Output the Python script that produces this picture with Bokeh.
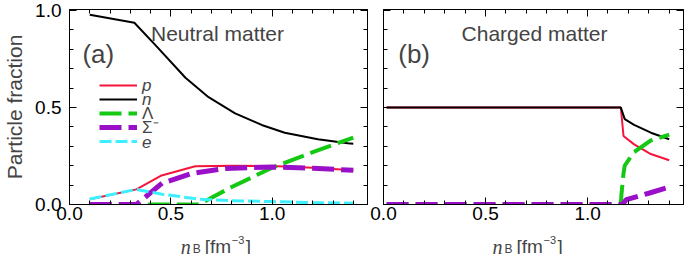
from bokeh.plotting import figure
from bokeh.layouts import row, column
from bokeh.models import (LinearAxis, FixedTicker, Range1d, Label, Legend,
                          LegendItem, PrintfTickFormatter)
from bokeh.embed import file_html
from bokeh.resources import INLINE

# ---------------- data ----------------
# (a) neutral matter
a_p_x = [0.10, 0.33, 0.45, 0.62, 0.80, 1.00, 1.20, 1.40]
a_p_y = [0.027, 0.078, 0.148, 0.197, 0.200, 0.198, 0.190, 0.177]
a_n_x = [0.10, 0.32, 0.425, 0.572, 0.686, 0.817, 0.948, 1.062, 1.225, 1.373, 1.40]
a_n_y = [0.978, 0.937, 0.82, 0.653, 0.553, 0.47, 0.41, 0.37, 0.336, 0.316, 0.313]
a_L_x = [0.10, 0.637, 0.80, 1.00, 1.20, 1.40]
a_L_y = [0.0, 0.0, 0.09, 0.19, 0.27, 0.345]
a_S_x = [0.10, 0.33, 0.457, 0.604, 0.768, 1.00, 1.20, 1.40]
a_S_y = [0.0, 0.0, 0.11, 0.16, 0.186, 0.193, 0.187, 0.176]
a_e_x = [0.10, 0.33, 0.457, 0.637, 0.80, 1.00, 1.20, 1.40]
a_e_y = [0.028, 0.078, 0.053, 0.028, 0.020, 0.015, 0.010, 0.007]

# (b) charged matter
b_p_x = [0.015, 1.163, 1.176, 1.228, 1.31, 1.40]
b_p_y = [0.5, 0.5, 0.353, 0.31, 0.26, 0.228]
b_n_x = [0.015, 1.163, 1.182, 1.228, 1.31, 1.40]
b_n_y = [0.5, 0.5, 0.44, 0.41, 0.37, 0.336]
b_L_x = [0.015, 1.163, 1.166, 1.176, 1.182, 1.228, 1.31, 1.40]
b_L_y = [0.0, 0.0, 0.053, 0.16, 0.20, 0.27, 0.33, 0.36]
b_S_x = [0.015, 1.17, 1.19, 1.30, 1.40]
b_S_y = [0.0, 0.0, 0.025, 0.058, 0.09]

x_major = [0.0, 0.5, 1.0]
x_minor = [0.1, 0.2, 0.3, 0.4, 0.6, 0.7, 0.8, 0.9, 1.1, 1.2, 1.3, 1.4]
y_major = [0.0, 0.5, 1.0]
y_minor = [0.1, 0.2, 0.3, 0.4, 0.6, 0.7, 0.8, 0.9]

legend_labels = ["p", "n", "Λ", "Σ⁻", "e"]
legend_styles = ["italic", "italic", "normal", "normal", "italic"]
panel_titles = ["Neutral matter", "Charged matter"]
panel_tags = ["(a)", "(b)"]
xtitle_anchor = [0.555, 0.534]

# ---------------- styles ----------------
SANS = "Liberation Sans"
C_P, C_N, C_L, C_S, C_E = "#f5143c", "#000000", "#14c814", "#9a10c8", "#3cf0ff"
TOPB = 9
FH = 195      # frame height
H = TOPB + FH + 23   # main panel height
FW = 300      # frame width
HT = 254 - H  # x-title strip height
PX_X = FW / 1.47
PX_Y = FH / 1.005


def style_axis(ax, major, minor, labels):
    ax.ticker = FixedTicker(ticks=major, minor_ticks=minor)
    ax.formatter = PrintfTickFormatter(format="%.1f")
    ax.major_tick_in = 7
    ax.major_tick_out = 0
    ax.minor_tick_in = 4
    ax.minor_tick_out = 0
    ax.axis_line_color = "black"
    ax.major_tick_line_color = "black"
    ax.minor_tick_line_color = "black"
    if labels:
        ax.major_label_text_font = SANS
        ax.major_label_text_font_size = "19px"
        ax.major_label_text_color = "black"
        ax.major_label_standoff = 2
    else:
        ax.major_label_overrides = {t: "" for t in major}
        ax.major_label_text_font_size = "1px"
        ax.major_label_text_color = None
        ax.major_label_standoff = 0


def make_panel(width, bl, br, ylabels, idx):
    p = figure(width=width, height=H, x_range=Range1d(0, 1.47),
               y_range=Range1d(0, 1.005), output_backend="svg",
               toolbar_location=None, min_border_left=bl,
               min_border_right=br, min_border_top=TOPB,
               min_border_bottom=H - TOPB - FH)
    p.xgrid.visible = False
    p.ygrid.visible = False
    p.outline_line_color = "black"
    style_axis(p.below[0], x_major, x_minor, True)
    style_axis(p.left[0], y_major, y_minor, ylabels)
    if ylabels:
        p.left[0].major_label_standoff = 8
    top = LinearAxis()
    style_axis(top, x_major, x_minor, False)
    p.add_layout(top, "above")
    right = LinearAxis()
    style_axis(right, y_major, y_minor, False)
    p.add_layout(right, "right")
    if ylabels:
        p.left[0].axis_label = "Particle fraction"
        p.left[0].axis_label_text_font = SANS
        p.left[0].axis_label_text_font_size = "21px"
        p.left[0].axis_label_text_font_style = "normal"
        p.left[0].axis_label_standoff = 6
    p.add_layout(Label(x=[0.73, 0.74][idx], y=0.88, text=panel_titles[idx],
                       text_align="center", text_baseline="middle",
                       text_font=SANS, text_font_size="21px"))
    p.add_layout(Label(x=[0.142, 0.15][idx], y=0.776, text=panel_tags[idx],
                       text_align="center", text_baseline="middle",
                       text_font=SANS, text_font_size="26px"))
    return p


def make_title_strip(width, bl, br, xr, idx):
    t = figure(width=width, height=HT, x_range=xr, y_range=Range1d(0, HT),
               x_axis_type=None, y_axis_type=None, output_backend="svg",
               toolbar_location=None, min_border_left=bl, min_border_right=br,
               min_border_top=0, min_border_bottom=0)
    t.xgrid.visible = False
    t.ygrid.visible = False
    t.outline_line_color = None
    ax0 = xtitle_anchor[idx]
    parts = [("n", 0, 8, "Liberation Serif", "20px", "italic"),
             ("B", 12, 6, SANS, "12px", "normal"),
             ("[fm", 24, 8, SANS, "19px", "normal"),
             ("−3", 51, 15, SANS, "11px", "normal"),
             ("]", 65, 8, SANS, "19px", "normal")]
    for txt, dx, yy, f, s, st in parts:
        t.add_layout(Label(x=ax0, y=yy, x_offset=dx, text=txt,
                           text_font=f, text_font_size=s, text_font_style=st,
                           text_baseline="alphabetic", text_align="left"))
    return t


# ---------------- panel (a) ----------------
pa = make_panel(67 + FW + 2, 67, 2, True, 0)
ra_p = pa.line(a_p_x, a_p_y, line_color=C_P, line_width=2)
ra_n = pa.line(a_n_x, a_n_y, line_color=C_N, line_width=2)
ra_L = pa.line(a_L_x, a_L_y, line_color=C_L, line_width=4, line_dash="22 7")
ra_S = pa.line(a_S_x, a_S_y, line_color=C_S, line_width=5, line_dash="22 7")
ra_e = pa.line(a_e_x, a_e_y, line_color=C_E, line_width=3, line_dash="12 4")

LEG_X, LEG_Y, ROW, GW = 30, 56, 14, 38
leg = Legend(items=[LegendItem(label=" ", renderers=[r]) for r in
                    [ra_p, ra_n, ra_L, ra_S, ra_e]],
             location=(LEG_X, LEG_Y), glyph_width=GW, glyph_height=ROW,
             label_height=ROW, label_width=1, spacing=0, padding=0, margin=0,
             label_standoff=0, border_line_alpha=0, background_fill_alpha=0,
             label_text_font_size="1px")
pa.add_layout(leg)
for i, (lab, st) in enumerate(zip(legend_labels, legend_styles)):
    yc = (LEG_Y + ROW * (len(legend_labels) - i) - ROW / 2) / PX_Y
    pa.add_layout(Label(x=(LEG_X + GW + 5) / PX_X, y=yc, text=lab,
                        text_font=SANS, text_font_size="17px",
                        text_font_style=st, text_baseline="middle",
                        text_align="left"))

# ---------------- panel (b) ----------------
pb = make_panel(16 + FW, 14, 2, False, 1)
pb.line(b_p_x, b_p_y, line_color=C_P, line_width=2)
pb.line(b_n_x, b_n_y, line_color=C_N, line_width=2)
pb.line(b_L_x, b_L_y, line_color=C_L, line_width=4, line_dash="22 7")
pb.line(b_S_x, b_S_y, line_color=C_S, line_width=5, line_dash="22 7")

ta = make_title_strip(67 + FW + 2, 67, 2, pa.x_range, 0)
tb = make_title_strip(16 + FW, 14, 2, pb.x_range, 1)

layout = column(row(pa, pb, spacing=0), row(ta, tb, spacing=0), spacing=0)
open("out.html", "w").write(file_html(layout, INLINE))
